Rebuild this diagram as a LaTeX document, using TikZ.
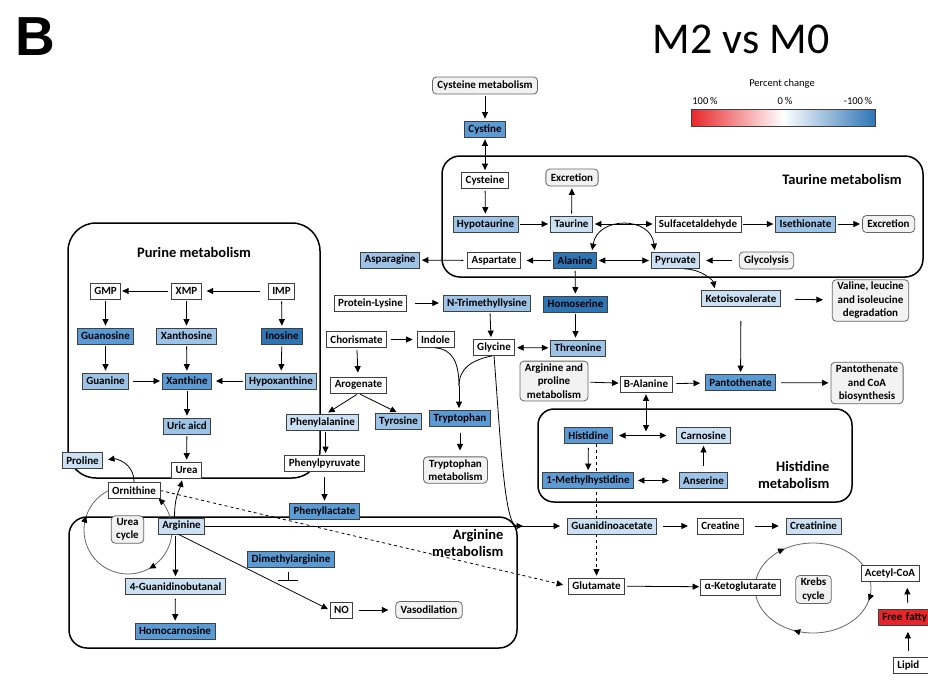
\documentclass[tikz,border=0pt]{standalone}
\usepackage{fontspec}
\setmainfont{Carlito}
\newfontfamily\headfont{Liberation Sans}
\usepackage{tikz}
\usetikzlibrary{arrows.meta,positioning,calc,decorations.markings,backgrounds}
\definecolor{dkblue}{RGB}{46,117,182}
\definecolor{mdblue}{RGB}{91,155,213}
\definecolor{lmblue}{RGB}{157,195,230}
\definecolor{ltblue}{RGB}{203,224,243}
\definecolor{upred}{RGB}{232,38,42}
\definecolor{pwgray}{RGB}{242,242,242}
\definecolor{edgegray}{RGB}{64,64,64}

\begin{document}
\begin{tikzpicture}[
  x=1pt, y=-1pt,
  >={Triangle[length=6.5pt,width=6pt]},
  every node/.style={font=\fontsize{11}{13}\selectfont\bfseries},
  met/.style={draw=edgegray,line width=0.8pt,fill=white,inner xsep=4pt,inner ysep=2pt,minimum height=16pt},
  lt/.style={met,fill=ltblue},
  lm/.style={met,fill=lmblue},
  md/.style={met,fill=mdblue},
  dk/.style={met,fill=dkblue},
  up/.style={met,fill=upred},
  pw/.style={draw=gray!80!black,line width=0.8pt,fill=pwgray,rounded corners=4pt,align=center,
    inner xsep=5pt,inner ysep=2.5pt,minimum height=17pt,font=\fontsize{11}{13.5}\selectfont\bfseries},
  region/.style={draw,line width=1.5pt,rounded corners=18pt},
  title/.style={font=\fontsize{14.5}{17.5}\selectfont\bfseries},
  small/.style={font=\fontsize{10.5}{12}\selectfont},
  cyc/.style={draw=black!60,line width=0.8pt},
  link/.style={->,line width=0.8pt,shorten <=2pt,shorten >=2pt},
]
\useasboundingbox (0,0) rectangle (928,686);
\begin{scope}[on background layer]
  \fill[white] (0,0) rectangle (928,686);
\end{scope}

% headings and legend
\node[font=\headfont\fontsize{55}{55}\selectfont\bfseries] (panel) at (35,37) {B};
\node[font=\fontsize{44}{44}\selectfont] (cmp) at (741,39) {M2 vs M0};
\node[small] (legt) at (782,84) {Percent change};
\node[small] (leg1) at (705,101) {100\,\%};
\node[small] (leg2) at (785,101) {0\,\%};
\node[small] (leg3) at (858,101) {-100\,\%};
\shadedraw[draw=edgegray,line width=0.6pt,left color=upred,right color=dkblue,middle color=white] (691,109) rectangle (875,126);

% pathway regions
\draw[region] (442,156) rectangle (923,277);
\draw[region,rounded corners=28pt] (68,223) rectangle (320,478);
\draw[region,rounded corners=16pt] (538,409) rectangle (852,502);
\draw[region] (69,517) rectangle (517,648);

% urea and krebs cycles
\draw[cyc,postaction={decorate},decoration={markings,
  mark=at position 0.25 with {\arrow{Triangle[color=black,length=6.5pt,width=6pt]}},
  mark=at position 0.81 with {\arrow{Triangle[color=black,length=6.5pt,width=6pt]}}}]
  (172,530) arc[start angle=0,end angle=245,radius=44];
\draw[cyc,-{Triangle[color=black,length=6.5pt,width=6pt]}]
  (170.3,518) arc[start angle=-16,end angle=-46,radius=44];
\draw[cyc,postaction={decorate},decoration={markings,
  mark=at position 0.16 with {\arrow{Triangle[color=black,length=6.5pt,width=6pt]}},
  mark=at position 0.54 with {\arrow{Triangle[color=black,length=6.5pt,width=6pt]}},
  mark=at position 0.81 with {\arrow{Triangle[color=black,length=6.5pt,width=6pt]}}}]
  (755,588) arc[start angle=180,end angle=540,x radius=58,y radius=45];

% taurine metabolism
\node[pw] (cysm) at (485,85.5) {Cysteine metabolism};
\node[md] (cysn) at (485,129) {Cystine};
\node[met] (cys) at (485,180.5) {Cysteine};
\node[pw] (exc1) at (572,177.5) {Excretion};
\node[title] (taut) at (842,179) {Taurine metabolism};
\node[lm] (hyt) at (485.5,224) {Hypotaurine};
\node[lt] (tau) at (571.5,224) {Taurine};
\node[met] (sulf) at (698,224) {Sulfacetaldehyde};
\node[lm] (ise) at (805.5,224) {Isethionate};
\node[pw] (exc2) at (888.5,224) {Excretion};
\node[lm] (asn) at (390,260) {Asparagine};
\node[met] (asp) at (494,260.5) {Aspartate};
\node[dk] (ala) at (575,260.5) {Alanine};
\node[lt] (pyr) at (675.5,260.5) {Pyruvate};
\node[pw] (glyco) at (766.5,260.5) {Glycolysis};

% middle part
\node[met] (plys) at (370.5,303) {Protein-Lysine};
\node[lm] (tml) at (487,303) {N-Trimethyllysine};
\node[dk] (hse) at (575.5,304) {Homoserine};
\node[lt] (kiv) at (741,298.5) {Ketoisovalerate};
\node[pw] (vli) at (870.5,300.5) {Valine, leucine\\and isoleucine\\degradation};
\node[met] (chor) at (356.5,339.5) {Chorismate};
\node[met] (indo) at (435.5,339.5) {Indole};
\node[met] (glyc) at (494,347.5) {Glycine};
\node[lm] (thr) at (578,348) {Threonine};
\node[pw] (arpm) at (554,381) {Arginine and\\proline\\metabolism};
\node[met] (bala) at (646,384) {B-Alanine};
\node[md] (pant) at (740.5,382.5) {Pantothenate};
\node[pw] (pcoa) at (867,383) {Pantothenate\\and CoA\\biosynthesis};
\node[met] (arog) at (358.5,385) {Arogenate};
\node[lt] (phe) at (322.5,422) {Phenylalanine};
\node[lm] (tyr) at (398.5,421.5) {Tyrosine};
\node[md] (trp) at (460,418.5) {Tryptophan};
\node[pw] (trpm) at (455.5,470) {Tryptophan\\metabolism};
\node[met] (ppyr) at (324.5,463.5) {Phenylpyruvate};
\node[md] (plac) at (324.5,511) {Phenyllactate};

% histidine metabolism
\node[md] (his) at (588.5,435.5) {Histidine};
\node[lt] (car) at (703.5,435.5) {Carnosine};
\node[md] (mhis) at (588,480.5) {1-Methylhystidine};
\node[lm] (ans) at (703.5,480.5) {Anserine};
\node[title,align=right,anchor=east] (hist) at (833,475) {Histidine\\metabolism};

% purine metabolism
\node[title] (purt) at (194,252) {Purine metabolism};
\node[met] (gmp) at (105.5,291) {GMP};
\node[met] (xmp) at (186.5,291) {XMP};
\node[met] (imp) at (281.5,291) {IMP};
\node[md] (guo) at (105.5,336) {Guanosine};
\node[lm] (xao) at (186.5,336) {Xanthosine};
\node[dk] (ino) at (282,336) {Inosine};
\node[lm] (gua) at (105.5,381) {Guanine};
\node[md] (xan) at (187,381) {Xanthine};
\node[lm] (hyx) at (281,381) {Hypoxanthine};
\node[lm] (uric) at (187,426) {Uric aicd};
\node[met] (urea) at (186.5,470) {Urea};
\node[lt] (pro) at (82.5,460.5) {Proline};

% arginine metabolism
\node[met] (orn) at (134,490.5) {Ornithine};
\node[pw] (ucyc) at (127.5,529.5) {Urea\\cycle};
\node[lt] (arg) at (181.5,526) {Arginine};
\node[lt] (gbal) at (175.5,586.5) {4-Guanidinobutanal};
\node[md] (hcar) at (175,631) {Homocarnosine};
\node[md] (dma) at (291,559.5) {Dimethylarginine};
\node[met] (no) at (341.5,610) {NO};
\node[pw] (vaso) at (429,610) {Vasodilation};
\node[title,align=right,anchor=east] (argt) at (507,543) {Arginine\\metabolism};

% creatine and krebs
\node[lt] (gaa) at (612,526) {Guanidinoacetate};
\node[met] (crea) at (720.5,526) {Creatine};
\node[lt] (crn) at (813.5,526) {Creatinine};
\node[met] (glu) at (596.5,586) {Glutamate};
\node[met] (akg) at (740.5,587) {α-Ketoglutarate};
\node[pw] (krebs) at (813.5,589.5) {Krebs\\cycle};
\node[met] (acoa) at (890,573.5) {Acetyl-CoA};
\node[up,anchor=west,text width=62pt,align=left] (ffa) at (878,617.5) {Free fatty};
\node[met,anchor=west,text width=44pt,align=left] (lip) at (893,665) {Lipid};

% connectors, taurine part
\draw[link] (cysm) -- (cysn);
\draw[link,<->] (cysn) -- (cys);
\draw[link] (cys) -- (hyt);
\draw[link] (hyt) -- (tau);
\draw[link] (tau) -- (exc1);
\draw[link,<->] (tau) -- (sulf);
\draw[link] (sulf) -- (ise);
\draw[link] (ise) -- (exc2);
\draw[link,<->] (ala) -- (pyr);
\draw[link,<->] ([xshift=-5pt]ala.north east) .. controls +(6,-36) and +(-4,-36) .. ([xshift=4pt]pyr.north west);
\draw[link,shorten <=7pt,shorten >=6pt] (glyco) -- (pyr);
\draw[link,shorten >=6pt] (ala) -- (asp);
\draw[link,shorten <=4pt] (asp) -- (asn);
\draw[link] (ala) -- (hse);
\draw[link,shorten <=0pt] ([xshift=9pt]pyr.south) .. controls +(16,0) and +(-2,-10) .. ([xshift=-26pt]kiv.north);

% connectors, middle part
\draw[link] (hse.south) -- (hse.south |- thr.north);
\draw[link,shorten <=8pt,shorten >=4pt] (plys) -- (tml);
\draw[link] ([xshift=3pt]tml.south) -- ([xshift=-3pt]glyc.north);
\draw[link,<->] (glyc) -- (thr);
\draw[link,shorten <=4pt,shorten >=4pt] (chor) -- (indo);
\draw[link,shorten >=4pt] (chor) -- (arog);
\draw[link] (arog.south) -- ([xshift=4pt]phe.north);
\draw[link] (arog.south) -- (tyr.north);
\coordinate (trpj) at (459,386);
\draw[line width=0.8pt] (indo.south) .. controls (452,349) and (459,362) .. (trpj);
\draw[line width=0.8pt] ([xshift=-2pt]glyc.south) .. controls (472,360) and (459,368) .. (trpj);
\draw[link,shorten <=0pt] (trpj) -- (trpj |- trp.north);
\draw[link,shorten <=6pt,shorten >=6pt] (trp.south) -- (trp.south |- trpm.north);
\draw[link] ([xshift=3pt]phe.south) -- ([xshift=1pt]ppyr.north);
\draw[link,shorten <=5pt] (ppyr) -- (plac);
\draw[link,shorten <=14pt,shorten >=9pt] (kiv) -- (vli);
\draw[link,shorten <=14pt] (kiv) -- (pant);
\draw[link,shorten >=1pt] (arpm) -- (bala);
\draw[link,shorten <=4pt,shorten >=5pt] (bala) -- (pant);
\draw[link,shorten <=5pt] (pant) -- (pcoa);
\coordinate (gaaj) at (523,526);
\draw[link,shorten <=0pt,shorten >=0pt] (glyc.south) .. controls (500,430) and (504,526) .. (gaaj);

% connectors, histidine part
\coordinate (hcj) at (bala.south |- his.east);
\draw[link,<->,shorten >=4pt] (bala.south) -- (hcj);
\draw[link,<->,shorten <=6pt,shorten >=10pt] (his) -- (car);
\draw[link,shorten <=4pt] (his) -- (mhis);
\draw[link,shorten <=6pt] (ans) -- (car);
\draw[link,<->,shorten <=4pt,shorten >=10pt] (mhis) -- (ans);

% connectors, purine part
\draw[link,shorten <=8pt,shorten >=5pt] (imp) -- (xmp);
\draw[link,shorten <=3pt,shorten >=1pt] (xmp) -- (gmp);
\draw[link] (gmp) -- (guo);
\draw[link] (guo) -- (gua);
\draw[link,shorten <=4pt] (gua) -- (xan);
\draw[link] (xmp) -- (xao);
\draw[link] (xao) -- (xan);
\draw[link] (imp) -- (ino);
\draw[link] (ino) -- (hyx);
\draw[link,shorten >=4pt] (hyx) -- (xan);
\draw[link] (xan) -- (uric);
\draw[link] (uric) -- (urea);

% connectors, arginine part
\draw[link,shorten <=0pt,shorten >=5pt] (orn.north) .. controls +(0,-20) and +(12,-2) .. (pro.east);
\draw[link,shorten <=0pt] ([xshift=-7pt]arg.north) .. controls +(0,-22) and +(-3,12) .. ([xshift=-4pt]urea.south);
\draw[link,shorten <=0pt,shorten >=7pt] (arg) -- (gaa);
\draw[link] (gbal.north |- arg.south) -- (gbal.north);
\draw[link,shorten <=4pt] (gbal) -- (hcar);
\draw[link,shorten <=0pt] ([xshift=-3pt]arg.south) -- (no.west);
\draw[link,shorten <=6pt,shorten >=7pt] (no) -- (vaso);
\coordinate (inh) at ([xshift=-3pt,yshift=-13pt]dma.south);
\draw[line width=0.8pt,-{Bar[width=20pt]}] ([xshift=-3pt,yshift=-4pt]dma.south) -- (inh);
\begin{scope}[on background layer]
  \draw[link,dashed,shorten <=0pt,shorten >=5pt] (orn.east) -- (glu.west);
  \draw[link,dashed,shorten <=0pt] (his.south -| glu.north) -- (glu.north);
\end{scope}

% connectors, creatine and krebs
\draw[link,shorten <=6pt,shorten >=9pt] (gaa) -- (crea);
\draw[link,shorten <=11pt,shorten >=7pt] (crea) -- (crn);
\draw[link,shorten >=1pt] (glu) -- (akg);
\draw[link,shorten <=6pt,shorten >=6pt] ([xshift=-5.5pt]ffa.north) -- ([xshift=17pt]acoa.south);
\draw[link,shorten <=6pt,shorten >=6pt] ([xshift=-11.5pt]lip.north) -- ([xshift=-5.5pt]ffa.south);
\end{tikzpicture}
\end{document}
